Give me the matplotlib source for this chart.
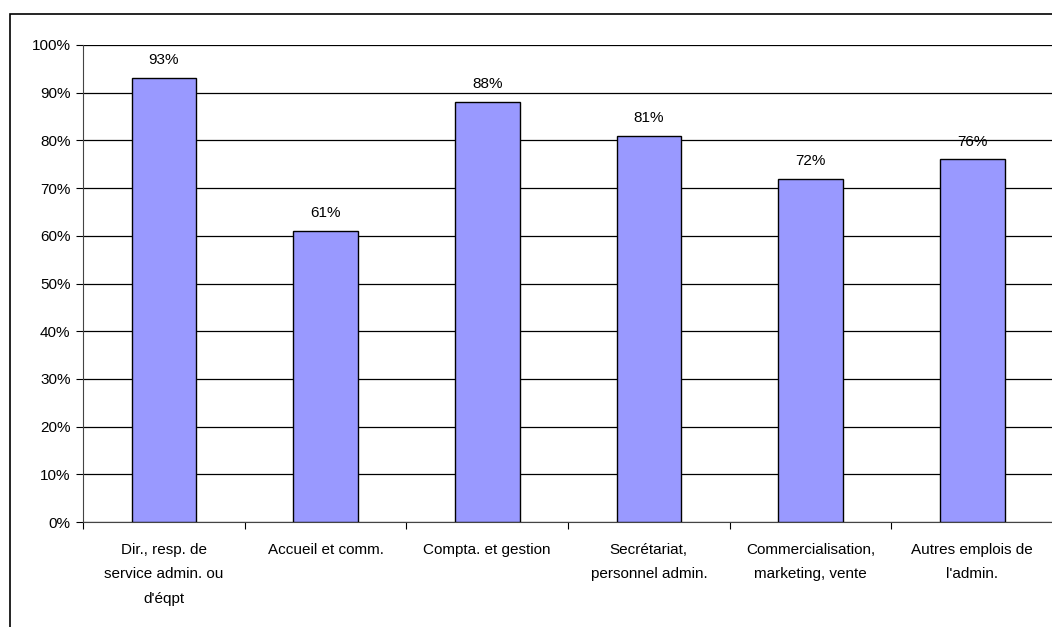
import numpy as np
import matplotlib.pyplot as plt
from matplotlib.patches import Rectangle

plt.rcParams['font.family'] = ['Liberation Sans', 'DejaVu Sans']

categories = ["Dir., resp. de\nservice admin. ou\nd'éqpt", "Accueil et comm.",
              "Compta. et gestion", "Secrétariat,\npersonnel admin.",
              "Commercialisation,\nmarketing, vente", "Autres emplois de\nl'admin."]
values = [93, 61, 88, 81, 72, 76]

W, H = 1052, 627
fig = plt.figure(figsize=(W / 100, H / 100), dpi=100)
# outer chart frame (cut at right and bottom)
fig.patches.append(Rectangle((10 / W, -0.2), 1.2, 1.2 - 14 / H, transform=fig.transFigure,
                             fill=False, edgecolor='black', linewidth=1.2))

left, right, top, bottom = 83, 1053, 45, 522
ax = fig.add_axes([left / W, 1 - bottom / H, (right - left) / W, (bottom - top) / H])

x = np.arange(len(categories))
ax.bar(x, values, width=0.4, color='#9999FF', edgecolor='black', linewidth=1, zorder=3)
for xi, v in zip(x, values):
    ax.text(xi, v + 2.3, f"{v}%", ha='center', va='bottom', fontsize=11)

ax.set_xlim(-0.5, len(categories) - 0.5)
ax.set_ylim(0, 100)
ax.set_yticks(range(0, 101, 10))
ax.set_yticklabels([f"{t}%" for t in range(0, 101, 10)], fontsize=11)
ax.yaxis.grid(True, color='black', linewidth=0.9, zorder=0)
ax.set_axisbelow(True)

ax.set_xticks(x)
ax.set_xticklabels(categories, fontsize=11, linespacing=1.95, va='top')
ax.tick_params(axis='x', length=0, pad=15)
ax.set_xticks(np.arange(len(categories) + 1) - 0.5, minor=True)
ax.tick_params(axis='x', which='minor', length=5, direction='out', width=0.8)
ax.tick_params(axis='y', length=5, direction='out', width=0.8, pad=4)

for s in ['top', 'right']:
    ax.spines[s].set_visible(False)
ax.spines['left'].set_color('#444444')
ax.spines['bottom'].set_color('#444444')

fig.savefig('out.png', dpi=100)
